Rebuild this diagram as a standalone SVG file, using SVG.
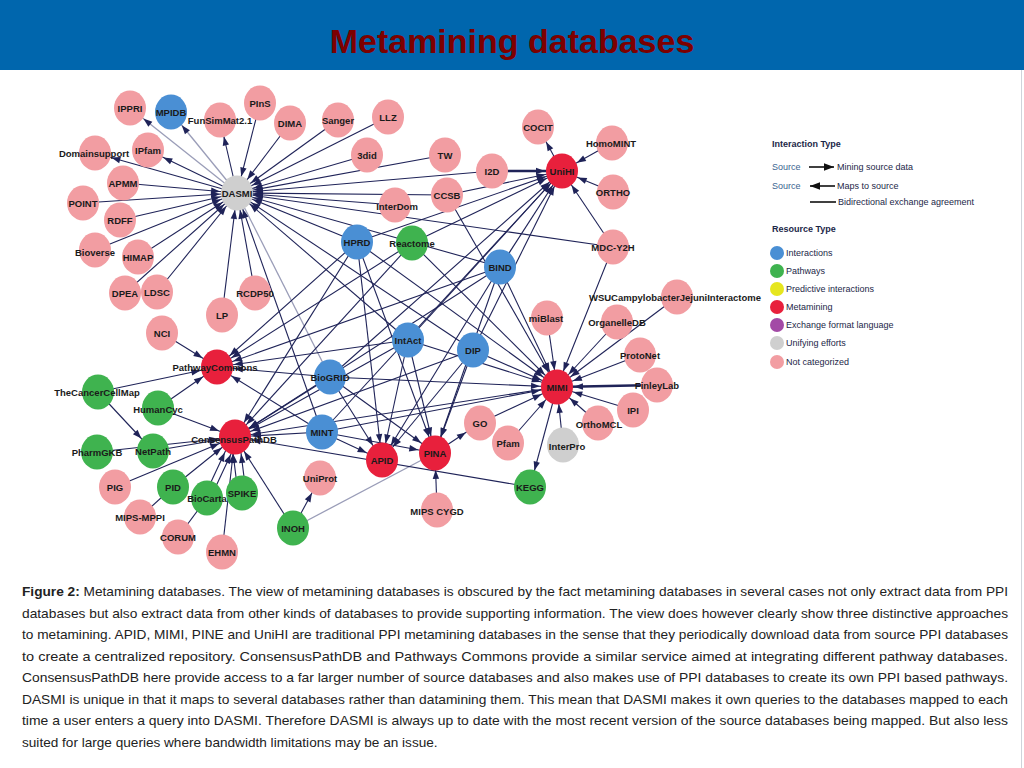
<svg xmlns="http://www.w3.org/2000/svg" width="1024" height="768" viewBox="0 0 1024 768">
<style>
.e{stroke:#1f2358;stroke-width:1.1;fill:none;marker-end:url(#h)}
.nh{marker-end:none}
.lt{stroke:#9a9db8;stroke-width:1.3}
.tk{stroke-width:2.4}
.n text{font-family:"Liberation Sans",Arial,sans-serif;font-size:9.5px;font-weight:bold;fill:#1a1a1a;text-anchor:middle}
.pk{fill:#f29da2}.rd{fill:#e8203c}.bl{fill:#4a8fd4}.gr{fill:#3fb34f}.gy{fill:#cfcfcf}.yl{fill:#e6e61e}.pu{fill:#a34aa6}
.lg{font-family:"Liberation Sans",Arial,sans-serif;font-size:9px;fill:#1c2748}
.lgb{font-weight:bold}
.src{fill:#3a6490}
.cap{font-family:"Liberation Sans",Arial,sans-serif;font-size:13.6px;fill:#222}
</style>
<defs>
<marker id="h" markerUnits="userSpaceOnUse" markerWidth="10" markerHeight="10" refX="0" refY="0" orient="auto" style="overflow:visible"><path d="M-17,0 L-26,-3.2 L-26,3.2 Z" fill="#1f2358"/></marker>
<marker id="hl" markerUnits="userSpaceOnUse" markerWidth="10" markerHeight="10" refX="0" refY="0" orient="auto" style="overflow:visible"><path d="M0,0 L-10,-3.8 L-10,3.8 Z" fill="#111"/></marker>
</defs>
<rect x="0" y="0" width="1024" height="768" fill="#ffffff"/>
<rect x="0" y="0" width="1024" height="70" fill="#0066ad"/>
<line x1="1021.5" y1="70" x2="1021.5" y2="768" stroke="#cfd3da" stroke-width="1"/>
<text x="512" y="53" text-anchor="middle" font-family="Liberation Sans, Arial, sans-serif" font-size="34" font-weight="bold" fill="#7d0000">Metamining databases</text>

<g id="connectors">
<line class="e lt" x1="237" y1="193" x2="130" y2="108"/>
<line class="e lt" x1="237" y1="193" x2="171" y2="112"/>
<line class="e" x1="237" y1="193" x2="220" y2="120"/>
<line class="e" x1="237" y1="193" x2="148" y2="150"/>
<line class="e" x1="237" y1="193" x2="95" y2="153"/>
<line class="e" x1="260" y1="103" x2="237" y2="193"/>
<line class="e" x1="290" y1="123" x2="237" y2="193"/>
<line class="e" x1="338" y1="120" x2="237" y2="193"/>
<line class="e" x1="388" y1="117" x2="237" y2="193"/>
<line class="e" x1="367" y1="155" x2="237" y2="193"/>
<line class="e" x1="445" y1="155" x2="237" y2="193"/>
<line class="e" x1="492" y1="171" x2="237" y2="193"/>
<line class="e" x1="447" y1="195" x2="237" y2="193"/>
<line class="e" x1="395" y1="205" x2="237" y2="193"/>
<line class="e" x1="613" y1="247" x2="237" y2="193"/>
<line class="e" x1="123" y1="183" x2="237" y2="193"/>
<line class="e" x1="83" y1="203" x2="237" y2="193"/>
<line class="e" x1="120" y1="220" x2="237" y2="193"/>
<line class="e" x1="95" y1="250" x2="237" y2="193"/>
<line class="e" x1="138" y1="257" x2="237" y2="193"/>
<line class="e" x1="125" y1="293" x2="237" y2="193"/>
<line class="e" x1="157" y1="292" x2="237" y2="193"/>
<line class="e" x1="222" y1="315" x2="237" y2="193"/>
<line class="e" x1="255" y1="293" x2="237" y2="193"/>
<line class="e" x1="357" y1="242" x2="237" y2="193"/>
<line class="e" x1="500" y1="267" x2="237" y2="193"/>
<line class="e" x1="408" y1="340" x2="237" y2="193"/>
<line class="e" x1="473" y1="350" x2="237" y2="193"/>
<line class="e" x1="322" y1="432" x2="237" y2="193"/>
<line class="e lt nh" x1="237" y1="193" x2="330" y2="377"/>
<line class="e tk" x1="492" y1="171" x2="562" y2="171"/>
<line class="e" x1="447" y1="195" x2="562" y2="171"/>
<line class="e" x1="357" y1="242" x2="562" y2="171"/>
<line class="e" x1="412" y1="243" x2="562" y2="171"/>
<line class="e" x1="500" y1="267" x2="562" y2="171"/>
<line class="e" x1="408" y1="340" x2="562" y2="171"/>
<line class="e" x1="473" y1="350" x2="562" y2="171"/>
<line class="e" x1="322" y1="432" x2="562" y2="171"/>
<line class="e" x1="330" y1="377" x2="562" y2="171"/>
<line class="e" x1="612" y1="143" x2="562" y2="171"/>
<line class="e" x1="613" y1="192" x2="562" y2="171"/>
<line class="e" x1="613" y1="247" x2="562" y2="171"/>
<line class="e" x1="562" y1="171" x2="538" y2="127"/>
<line class="e" x1="357" y1="242" x2="557" y2="387"/>
<line class="e" x1="412" y1="243" x2="557" y2="387"/>
<line class="e" x1="500" y1="267" x2="557" y2="387"/>
<line class="e" x1="408" y1="340" x2="557" y2="387"/>
<line class="e" x1="473" y1="350" x2="557" y2="387"/>
<line class="e" x1="330" y1="377" x2="557" y2="387"/>
<line class="e" x1="322" y1="432" x2="557" y2="387"/>
<line class="e" x1="447" y1="195" x2="557" y2="387"/>
<line class="e" x1="613" y1="247" x2="557" y2="387"/>
<line class="e" x1="547" y1="318" x2="557" y2="387"/>
<line class="e" x1="677" y1="297" x2="557" y2="387"/>
<line class="e" x1="617" y1="322" x2="557" y2="387"/>
<line class="e" x1="640" y1="355" x2="557" y2="387"/>
<line class="e tk" x1="657" y1="385" x2="557" y2="387"/>
<line class="e" x1="633" y1="410" x2="557" y2="387"/>
<line class="e" x1="598" y1="423" x2="557" y2="387"/>
<line class="e" x1="563" y1="445" x2="557" y2="387"/>
<line class="e" x1="480" y1="423" x2="557" y2="387"/>
<line class="e" x1="508" y1="443" x2="557" y2="387"/>
<line class="e" x1="557" y1="387" x2="530" y2="487"/>
<line class="e" x1="357" y1="242" x2="435" y2="453"/>
<line class="e" x1="500" y1="267" x2="435" y2="453"/>
<line class="e" x1="408" y1="340" x2="435" y2="453"/>
<line class="e" x1="473" y1="350" x2="435" y2="453"/>
<line class="e" x1="330" y1="377" x2="435" y2="453"/>
<line class="e" x1="322" y1="432" x2="435" y2="453"/>
<line class="e" x1="437" y1="510" x2="435" y2="453"/>
<line class="e" x1="435" y1="453" x2="480" y2="423"/>
<line class="e lt nh" x1="293" y1="528" x2="435" y2="453"/>
<line class="e" x1="357" y1="242" x2="382" y2="460"/>
<line class="e" x1="500" y1="267" x2="382" y2="460"/>
<line class="e" x1="408" y1="340" x2="382" y2="460"/>
<line class="e" x1="473" y1="350" x2="382" y2="460"/>
<line class="e" x1="330" y1="377" x2="382" y2="460"/>
<line class="e" x1="322" y1="432" x2="382" y2="460"/>
<line class="e" x1="357" y1="242" x2="235" y2="437"/>
<line class="e" x1="412" y1="243" x2="235" y2="437"/>
<line class="e" x1="500" y1="267" x2="235" y2="437"/>
<line class="e" x1="408" y1="340" x2="235" y2="437"/>
<line class="e" x1="473" y1="350" x2="235" y2="437"/>
<line class="e" x1="330" y1="377" x2="235" y2="437"/>
<line class="e" x1="322" y1="432" x2="235" y2="437"/>
<line class="e" x1="557" y1="387" x2="235" y2="437"/>
<line class="e" x1="158" y1="408" x2="235" y2="437"/>
<line class="e" x1="153" y1="451" x2="235" y2="437"/>
<line class="e" x1="97" y1="452" x2="235" y2="437"/>
<line class="e" x1="115" y1="487" x2="235" y2="437"/>
<line class="e" x1="173" y1="487" x2="235" y2="437"/>
<line class="e" x1="204" y1="497" x2="232" y2="437"/>
<line class="e" x1="210" y1="499" x2="238" y2="439"/>
<line class="e" x1="238" y1="493" x2="231" y2="437"/>
<line class="e" x1="246" y1="493" x2="239" y2="437"/>
<line class="e" x1="222" y1="552" x2="235" y2="437"/>
<line class="e" x1="293" y1="528" x2="235" y2="437"/>
<line class="e" x1="530" y1="487" x2="235" y2="437"/>
<line class="e" x1="162" y1="333" x2="217" y2="367"/>
<line class="e" x1="98" y1="392" x2="217" y2="367"/>
<line class="e" x1="158" y1="408" x2="217" y2="367"/>
<line class="e" x1="357" y1="242" x2="217" y2="367"/>
<line class="e" x1="412" y1="243" x2="217" y2="367"/>
<line class="e" x1="500" y1="267" x2="217" y2="367"/>
<line class="e" x1="408" y1="340" x2="217" y2="367"/>
<line class="e" x1="330" y1="377" x2="217" y2="367"/>
<line class="e" x1="322" y1="432" x2="217" y2="367"/>
<line class="e" x1="98" y1="392" x2="153" y2="451"/>
<line class="e nh" x1="140" y1="517" x2="173" y2="487"/>
<line class="e nh" x1="178" y1="537" x2="207" y2="498"/>
<line class="e" x1="293" y1="528" x2="320" y2="478"/>
</g>

<g id="nodes">
<g id="n-DASMI" class="n"><ellipse class="gy" cx="237" cy="193" rx="16" ry="17.5"/><text x="237" y="196.5">DASMI</text></g>
<g id="n-IPPRI" class="n"><ellipse class="pk" cx="130" cy="108" rx="16" ry="17.5"/><text x="130" y="111.5">IPPRI</text></g>
<g id="n-MPIDB" class="n"><ellipse class="bl" cx="171" cy="112" rx="16" ry="17.5"/><text x="171" y="115.5">MPIDB</text></g>
<g id="n-FunSimMat" class="n"><ellipse class="pk" cx="220" cy="120" rx="16" ry="17.5"/><text x="220" y="123.5">FunSimMat2.1</text></g>
<g id="n-PInS" class="n"><ellipse class="pk" cx="260" cy="103" rx="16" ry="17.5"/><text x="260" y="106.5">PInS</text></g>
<g id="n-DIMA" class="n"><ellipse class="pk" cx="290" cy="123" rx="16" ry="17.5"/><text x="290" y="126.5">DIMA</text></g>
<g id="n-Sanger" class="n"><ellipse class="pk" cx="338" cy="120" rx="16" ry="17.5"/><text x="338" y="123.5">Sanger</text></g>
<g id="n-LLZ" class="n"><ellipse class="pk" cx="388" cy="117" rx="16" ry="17.5"/><text x="388" y="120.5">LLZ</text></g>
<g id="n-3did" class="n"><ellipse class="pk" cx="367" cy="155" rx="16" ry="17.5"/><text x="367" y="158.5">3did</text></g>
<g id="n-TW" class="n"><ellipse class="pk" cx="445" cy="155" rx="16" ry="17.5"/><text x="445" y="158.5">TW</text></g>
<g id="n-I2D" class="n"><ellipse class="pk" cx="492" cy="171" rx="16" ry="17.5"/><text x="492" y="174.5">I2D</text></g>
<g id="n-CCSB" class="n"><ellipse class="pk" cx="447" cy="195" rx="16" ry="17.5"/><text x="447" y="198.5">CCSB</text></g>
<g id="n-InterDom" class="n"><ellipse class="pk" cx="395" cy="205" rx="16" ry="17.5"/><text x="397" y="210">InterDom</text></g>
<g id="n-Domainsupport" class="n"><ellipse class="pk" cx="95" cy="153" rx="16" ry="17.5"/><text x="94" y="156.5">Domainsupport</text></g>
<g id="n-IPfam" class="n"><ellipse class="pk" cx="148" cy="150" rx="16" ry="17.5"/><text x="148" y="153.5">IPfam</text></g>
<g id="n-APMM" class="n"><ellipse class="pk" cx="123" cy="183" rx="16" ry="17.5"/><text x="123" y="186.5">APMM</text></g>
<g id="n-POINT" class="n"><ellipse class="pk" cx="83" cy="203" rx="16" ry="17.5"/><text x="83" y="206.5">POINT</text></g>
<g id="n-RDFF" class="n"><ellipse class="pk" cx="120" cy="220" rx="16" ry="17.5"/><text x="120" y="223.5">RDFF</text></g>
<g id="n-Bioverse" class="n"><ellipse class="pk" cx="95" cy="250" rx="16" ry="17.5"/><text x="95" y="256">Bioverse</text></g>
<g id="n-HIMAP" class="n"><ellipse class="pk" cx="138" cy="257" rx="16" ry="17.5"/><text x="138" y="260.5">HIMAP</text></g>
<g id="n-DPEA" class="n"><ellipse class="pk" cx="125" cy="293" rx="16" ry="17.5"/><text x="125" y="296.5">DPEA</text></g>
<g id="n-LDSC" class="n"><ellipse class="pk" cx="157" cy="292" rx="16" ry="17.5"/><text x="157" y="295.5">LDSC</text></g>
<g id="n-LP" class="n"><ellipse class="pk" cx="222" cy="315" rx="16" ry="17.5"/><text x="222" y="318.5">LP</text></g>
<g id="n-RCDP50" class="n"><ellipse class="pk" cx="255" cy="293" rx="16" ry="17.5"/><text x="255" y="296.5">RCDP50</text></g>
<g id="n-NCI" class="n"><ellipse class="pk" cx="162" cy="333" rx="16" ry="17.5"/><text x="162" y="336.5">NCI</text></g>
<g id="n-PathwayCommons" class="n"><ellipse class="rd" cx="217" cy="367" rx="16" ry="17.5"/><text x="215" y="371">PathwayCommons</text></g>
<g id="n-TheCancerCellMap" class="n"><ellipse class="gr" cx="98" cy="392" rx="16" ry="17.5"/><text x="97" y="396">TheCancerCellMap</text></g>
<g id="n-HumanCyc" class="n"><ellipse class="gr" cx="158" cy="408" rx="16" ry="17.5"/><text x="158" y="413">HumanCyc</text></g>
<g id="n-ConsensusPathDB" class="n"><ellipse class="rd" cx="235" cy="437" rx="16" ry="17.5"/><text x="234" y="443">ConsensusPathDB</text></g>
<g id="n-PharmGKB" class="n"><ellipse class="gr" cx="97" cy="452" rx="16" ry="17.5"/><text x="97" y="455.5">PharmGKB</text></g>
<g id="n-NetPath" class="n"><ellipse class="gr" cx="153" cy="451" rx="16" ry="17.5"/><text x="153" y="455">NetPath</text></g>
<g id="n-PIG" class="n"><ellipse class="pk" cx="115" cy="487" rx="16" ry="17.5"/><text x="115" y="490.5">PIG</text></g>
<g id="n-PID" class="n"><ellipse class="gr" cx="173" cy="487" rx="16" ry="17.5"/><text x="173" y="490.5">PID</text></g>
<g id="n-MIPS-MPPI" class="n"><ellipse class="pk" cx="140" cy="517" rx="16" ry="17.5"/><text x="140" y="520.5">MIPS-MPPI</text></g>
<g id="n-BioCarta" class="n"><ellipse class="gr" cx="207" cy="498" rx="16" ry="17.5"/><text x="207" y="501.5">BioCarta</text></g>
<g id="n-SPIKE" class="n"><ellipse class="gr" cx="242" cy="493" rx="16" ry="17.5"/><text x="242" y="496.5">SPIKE</text></g>
<g id="n-CORUM" class="n"><ellipse class="pk" cx="178" cy="537" rx="16" ry="17.5"/><text x="178" y="540.5">CORUM</text></g>
<g id="n-EHMN" class="n"><ellipse class="pk" cx="222" cy="552" rx="16" ry="17.5"/><text x="222" y="555.5">EHMN</text></g>
<g id="n-INOH" class="n"><ellipse class="gr" cx="293" cy="528" rx="16" ry="17.5"/><text x="293" y="531.5">INOH</text></g>
<g id="n-UniProt" class="n"><ellipse class="pk" cx="320" cy="478" rx="16" ry="17.5"/><text x="320" y="481.5">UniProt</text></g>
<g id="n-MINT" class="n"><ellipse class="bl" cx="322" cy="432" rx="16" ry="17.5"/><text x="322" y="435.5">MINT</text></g>
<g id="n-BioGRID" class="n"><ellipse class="bl" cx="330" cy="377" rx="16" ry="17.5"/><text x="330" y="380.5">BioGRID</text></g>
<g id="n-HPRD" class="n"><ellipse class="bl" cx="357" cy="242" rx="16" ry="17.5"/><text x="357" y="245.5">HPRD</text></g>
<g id="n-Reactome" class="n"><ellipse class="gr" cx="412" cy="243" rx="16" ry="17.5"/><text x="412" y="246.5">Reactome</text></g>
<g id="n-BIND" class="n"><ellipse class="bl" cx="500" cy="267" rx="16" ry="17.5"/><text x="500" y="270.5">BIND</text></g>
<g id="n-IntAct" class="n"><ellipse class="bl" cx="408" cy="340" rx="16" ry="17.5"/><text x="408" y="343.5">IntAct</text></g>
<g id="n-DIP" class="n"><ellipse class="bl" cx="473" cy="350" rx="16" ry="17.5"/><text x="473" y="353.5">DIP</text></g>
<g id="n-APID" class="n"><ellipse class="rd" cx="382" cy="460" rx="16" ry="17.5"/><text x="382" y="463.5">APID</text></g>
<g id="n-PINA" class="n"><ellipse class="rd" cx="435" cy="453" rx="16" ry="17.5"/><text x="435" y="456.5">PINA</text></g>
<g id="n-GO" class="n"><ellipse class="pk" cx="480" cy="423" rx="16" ry="17.5"/><text x="480" y="426.5">GO</text></g>
<g id="n-Pfam" class="n"><ellipse class="pk" cx="508" cy="443" rx="16" ry="17.5"/><text x="508" y="446.5">Pfam</text></g>
<g id="n-MIPSCYGD" class="n"><ellipse class="pk" cx="437" cy="510" rx="16" ry="17.5"/><text x="437" y="515">MIPS CYGD</text></g>
<g id="n-KEGG" class="n"><ellipse class="gr" cx="530" cy="487" rx="16" ry="17.5"/><text x="530" y="490.5">KEGG</text></g>
<g id="n-MIMI" class="n"><ellipse class="rd" cx="557" cy="387" rx="16" ry="17.5"/><text x="557" y="390.5">MIMI</text></g>
<g id="n-miBlast" class="n"><ellipse class="pk" cx="547" cy="318" rx="16" ry="17.5"/><text x="546" y="322">miBlast</text></g>
<g id="n-InterPro" class="n"><ellipse class="gy" cx="563" cy="445" rx="16" ry="17.5"/><text x="567" y="450">InterPro</text></g>
<g id="n-OrthoMCL" class="n"><ellipse class="pk" cx="598" cy="423" rx="16" ry="17.5"/><text x="599" y="428">OrthoMCL</text></g>
<g id="n-IPI" class="n"><ellipse class="pk" cx="633" cy="410" rx="16" ry="17.5"/><text x="633" y="413.5">IPI</text></g>
<g id="n-FinleyLab" class="n"><ellipse class="pk" cx="657" cy="385" rx="16" ry="17.5"/><text x="657" y="388.5">FinleyLab</text></g>
<g id="n-ProtoNet" class="n"><ellipse class="pk" cx="640" cy="355" rx="16" ry="17.5"/><text x="640" y="358.5">ProtoNet</text></g>
<g id="n-OrganelleDB" class="n"><ellipse class="pk" cx="617" cy="322" rx="16" ry="17.5"/><text x="617" y="325.5">OrganelleDB</text></g>
<g id="n-WSU" class="n"><ellipse class="pk" cx="677" cy="297" rx="16" ry="17.5"/><text x="675" y="300.5">WSUCampylobacterJejuniInteractome</text></g>
<g id="n-UniHI" class="n"><ellipse class="rd" cx="562" cy="171" rx="16" ry="17.5"/><text x="562" y="174.5">UniHI</text></g>
<g id="n-COCIT" class="n"><ellipse class="pk" cx="538" cy="127" rx="16" ry="17.5"/><text x="538" y="130.5">COCIT</text></g>
<g id="n-HomoMINT" class="n"><ellipse class="pk" cx="612" cy="143" rx="16" ry="17.5"/><text x="611" y="146.5">HomoMINT</text></g>
<g id="n-ORTHO" class="n"><ellipse class="pk" cx="613" cy="192" rx="16" ry="17.5"/><text x="613" y="195.5">ORTHO</text></g>
<g id="n-MDC-Y2H" class="n"><ellipse class="pk" cx="613" cy="247" rx="16" ry="17.5"/><text x="613" y="250.5">MDC-Y2H</text></g>
</g>

<g id="legend">
<text class="lg lgb" x="772" y="147">Interaction Type</text>
<text class="lg src" x="772" y="170">Source</text>
<line x1="809" y1="167" x2="834" y2="167" stroke="#111" stroke-width="1.6" marker-end="url(#hl)"/>
<text class="lg" x="837" y="170">Mining source data</text>
<text class="lg src" x="772" y="189">Source</text>
<line x1="835" y1="186" x2="810" y2="186" stroke="#111" stroke-width="1.6" marker-end="url(#hl)"/>
<text class="lg" x="837" y="189">Maps to source</text>
<line x1="810" y1="202" x2="836" y2="202" stroke="#111" stroke-width="1.6"/>
<text class="lg" x="838" y="205">Bidirectional exchange agreement</text>
<text class="lg lgb" x="772" y="232">Resource Type</text>
<circle class="bl" cx="777" cy="253" r="7"/><text class="lg" x="786" y="256">Interactions</text>
<circle class="gr" cx="777" cy="271" r="7"/><text class="lg" x="786" y="274">Pathways</text>
<circle class="yl" cx="777" cy="289" r="7"/><text class="lg" x="786" y="292">Predictive interactions</text>
<circle class="rd" cx="777" cy="307" r="7"/><text class="lg" x="786" y="310">Metamining</text>
<circle class="pu" cx="777" cy="325" r="7"/><text class="lg" x="786" y="328">Exchange format language</text>
<circle class="gy" cx="777" cy="343" r="7"/><text class="lg" x="786" y="346">Unifying efforts</text>
<circle class="pk" cx="777" cy="362" r="7"/><text class="lg" x="786" y="365">Not categorized</text>
</g>

<g id="caption">
<text class="cap" x="22" y="596" textLength="986" lengthAdjust="spacingAndGlyphs"><tspan font-weight="bold">Figure 2:</tspan>  Metamining databases. The view of metamining databases is obscured by the fact metamining databases in several cases not only extract data from PPI</text>
<text class="cap" x="22" y="617.5" textLength="986" lengthAdjust="spacingAndGlyphs">databases but also extract data from other kinds of databases to provide supporting information. The view does however clearly show three distinctive approaches</text>
<text class="cap" x="22" y="639" textLength="986" lengthAdjust="spacingAndGlyphs">to metamining. APID, MIMI, PINE and UniHI are traditional PPI metamining databases in the sense that they periodically download data from source PPI databases</text>
<text class="cap" x="22" y="660.5" textLength="986" lengthAdjust="spacingAndGlyphs">to create a centralized repository. ConsensusPathDB and Pathways Commons provide a similar service aimed at integrating different pathway databases.</text>
<text class="cap" x="22" y="682" textLength="986" lengthAdjust="spacingAndGlyphs">ConsensusPathDB here provide access to a far larger number of source databases and also makes use of PPI databases to create its own PPI based pathways.</text>
<text class="cap" x="22" y="703.5" textLength="986" lengthAdjust="spacingAndGlyphs">DASMI is unique in that it maps to several databases rather than datamining them. This mean that DASMI makes it own queries to the databases mapped to each</text>
<text class="cap" x="22" y="725" textLength="986" lengthAdjust="spacingAndGlyphs">time a user enters a query into DASMI. Therefore DASMI is always up to date with the most recent version of the source databases being mapped. But also less</text>
<text class="cap" x="22" y="746.5">suited for large queries where bandwidth limitations may be an issue.</text>
</g>
</svg>
